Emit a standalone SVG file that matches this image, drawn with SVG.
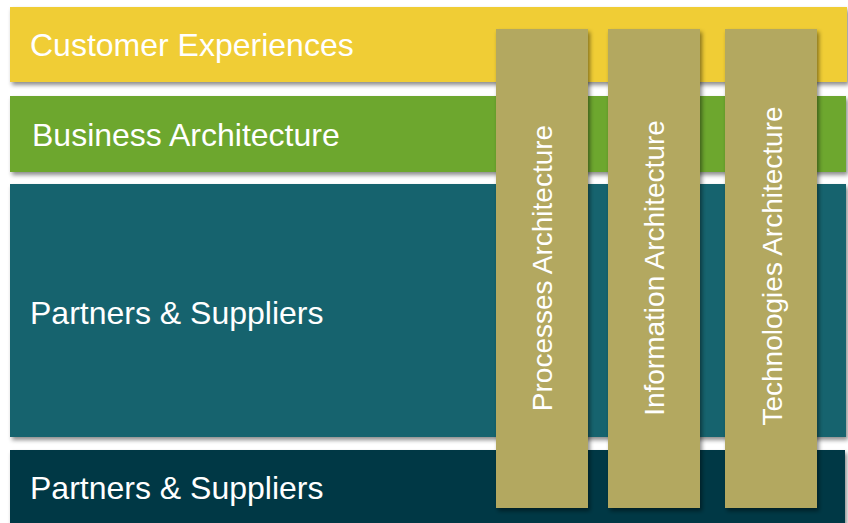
<svg xmlns="http://www.w3.org/2000/svg" width="848" height="523" viewBox="0 0 848 523">
<style>
.lbl{font-family:"Liberation Sans",Arial,sans-serif;font-size:32px;fill:#ffffff}
.vlbl{font-family:"Liberation Sans",Arial,sans-serif;font-size:28px;fill:#ffffff;text-anchor:middle}
.col{fill:#B3A860}
</style>
<defs>
<filter id="sh" x="-10%" y="-20%" width="120%" height="150%">
<feDropShadow dx="2" dy="3" stdDeviation="2" flood-color="#000" flood-opacity="0.45"/>
</filter>
</defs>
<rect width="848" height="523" fill="#ffffff"/>
<g id="customer-experiences">
<rect x="10" y="7" width="837" height="75" fill="#F0CD35" filter="url(#sh)"/>
<text class="lbl" x="30" y="56">Customer Experiences</text>
</g>
<g id="business-architecture">
<rect x="10" y="96" width="836" height="76" fill="#6DA72E" filter="url(#sh)"/>
<text class="lbl" x="32" y="146">Business Architecture</text>
</g>
<g id="partners-suppliers-1">
<rect x="10" y="184" width="836" height="253" fill="#17636E" filter="url(#sh)"/>
<text class="lbl" x="30" y="324">Partners &amp; Suppliers</text>
</g>
<g id="partners-suppliers-2">
<rect x="10" y="450" width="835" height="80" fill="#023844" filter="url(#sh)"/>
<text class="lbl" x="30" y="499">Partners &amp; Suppliers</text>
</g>
<g id="processes-architecture">
<rect class="col" x="496" y="29" width="92" height="479" filter="url(#sh)"/>
<text class="vlbl" transform="translate(552,268) rotate(-90)">Processes Architecture</text>
</g>
<g id="information-architecture">
<rect class="col" x="608" y="29" width="92" height="479" filter="url(#sh)"/>
<text class="vlbl" transform="translate(664,268) rotate(-90)">Information Architecture</text>
</g>
<g id="technologies-architecture">
<rect class="col" x="725" y="29" width="92" height="479" filter="url(#sh)"/>
<text class="vlbl" transform="translate(782,266) rotate(-90)">Technologies Architecture</text>
</g>
</svg>
